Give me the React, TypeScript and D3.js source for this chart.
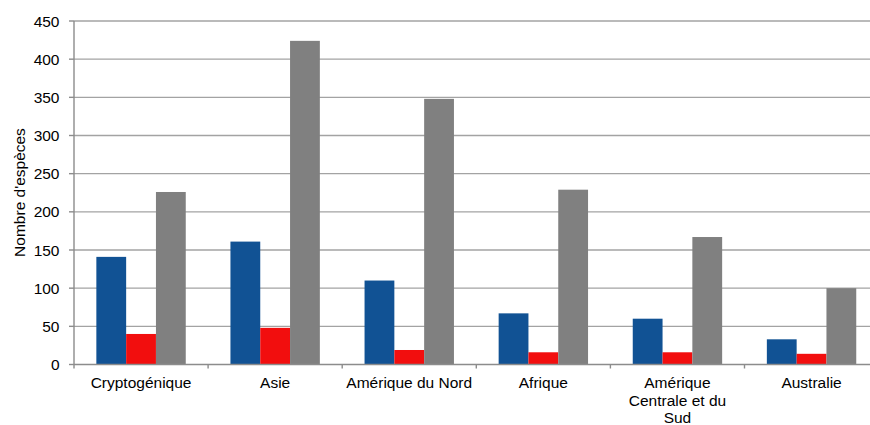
import React, { useEffect, useRef } from "react";
import * as d3 from "d3";

const categories = [
  "Cryptogénique",
  "Asie",
  "Amérique du Nord",
  "Afrique",
  "Amérique Centrale et du Sud",
  "Australie",
];
const seriesNames = ["s1", "s2", "s3"];
const blueValues = [141, 161, 110, 67, 60, 33];
const redValues = [40, 48, 19, 16, 16, 14];
const grayValues = [226, 424, 348, 229, 167, 100];
const seriesColors = ["#115294", "#f20e0e", "#808080"];
const yTicks = [0, 50, 100, 150, 200, 250, 300, 350, 400, 450];
const yTitle = "Nombre d'espèces";

const W = 870;
const H = 425;
const FONT = "'Liberation Sans', Arial, sans-serif";
const FS = 15.5;

export default function App() {
  const ref = useRef<SVGSVGElement>(null);

  useEffect(() => {
    const svg = d3.select(ref.current);
    svg.selectAll("*").remove();

    const left = 74;
    const step = 134.1;
    const x = d3
      .scaleBand<string>()
      .domain(categories)
      .range([left, left + step * categories.length])
      .paddingInner(0)
      .paddingOuter(0);
    const xs = d3
      .scaleBand<string>()
      .domain(seriesNames)
      .range([0, x.bandwidth()])
      .paddingInner(0)
      .paddingOuter(0.75);
    const y = d3.scaleLinear().domain([0, 450]).range([364.5, 21]);

    // gridlines
    svg
      .append("g")
      .selectAll("line")
      .data(yTicks.filter((t) => t > 0))
      .join("line")
      .attr("x1", left)
      .attr("x2", W)
      .attr("y1", (d) => y(d))
      .attr("y2", (d) => y(d))
      .attr("stroke", "#a3a3a3")
      .attr("stroke-width", 1.4);

    // bars
    const series = [blueValues, redValues, grayValues];
    series.forEach((vals, si) => {
      svg
        .append("g")
        .selectAll("rect")
        .data(categories)
        .join("rect")
        .attr("x", (c) => (x(c) as number) + (xs(seriesNames[si]) as number))
        .attr("width", xs.bandwidth())
        .attr("y", (c, i) => y(vals[i]))
        .attr("height", (c, i) => y(0) - y(vals[i]))
        .attr("fill", seriesColors[si]);
    });

    // y axis
    const ax = svg.append("g").attr("stroke", "#8c8c8c").attr("stroke-width", 1.4);
    ax.append("line")
      .attr("x1", left)
      .attr("x2", left)
      .attr("y1", y(450))
      .attr("y2", y(0) + 4);
    ax.selectAll(".yt")
      .data(yTicks)
      .join("line")
      .attr("x1", left - 5)
      .attr("x2", left)
      .attr("y1", (d) => y(d))
      .attr("y2", (d) => y(d));
    // x axis
    ax.append("line")
      .attr("x1", left)
      .attr("x2", W)
      .attr("y1", y(0))
      .attr("y2", y(0));
    ax.selectAll(".xt")
      .data(categories)
      .join("line")
      .attr("x1", (c) => (x(c) as number) + step)
      .attr("x2", (c) => (x(c) as number) + step)
      .attr("y1", y(0))
      .attr("y2", y(0) + 4);

    svg
      .append("g")
      .selectAll("text")
      .data(yTicks)
      .join("text")
      .attr("x", 59.5)
      .attr("y", (d) => y(d) + 5.5)
      .attr("text-anchor", "end")
      .attr("font-family", FONT)
      .attr("font-size", FS)
      .attr("fill", "#000")
      .text((d) => String(d));

    // category labels, wrapped when too wide
    const labels = svg.append("g");
    categories.forEach((c) => {
      const cx = (x(c) as number) + step / 2;
      const lines =
        c === "Amérique Centrale et du Sud"
          ? ["Amérique", "Centrale et du", "Sud"]
          : [c];
      const t = labels
        .append("text")
        .attr("text-anchor", "middle")
        .attr("font-family", FONT)
        .attr("font-size", FS)
        .attr("fill", "#000");
      lines.forEach((ln, i) => {
        t.append("tspan").attr("x", cx).attr("y", 388 + i * 17.5).text(ln);
      });
    });

    svg
      .append("text")
      .attr("transform", `translate(24.5,192.5) rotate(-90)`)
      .attr("text-anchor", "middle")
      .attr("font-family", FONT)
      .attr("font-size", FS)
      .attr("fill", "#000")
      .text(yTitle);
  }, []);

  return (
    <svg
      ref={ref}
      width={W}
      height={H}
      style={{ position: "absolute", left: 0, top: 0, background: "#fff" }}
    />
  );
}
